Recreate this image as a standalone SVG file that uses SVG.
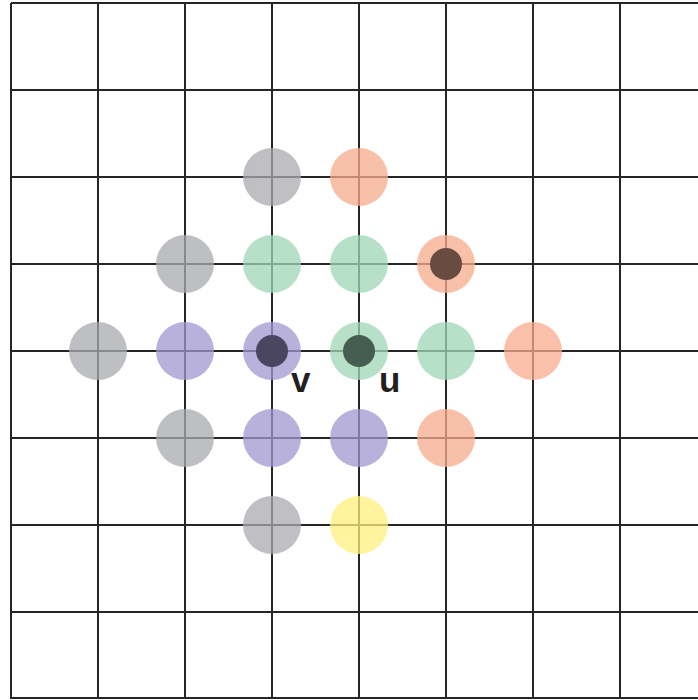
<svg xmlns="http://www.w3.org/2000/svg" width="698" height="700" viewBox="0 0 698 700">
<style>
.g{stroke:#262626;stroke-width:2;fill:none}
.c{opacity:0.75}
.gray{fill:#a9aab0}
.org{fill:#f8ab8d}
.grn{fill:#9fd6b6}
.pur{fill:#9f97cf}
.yel{fill:#fff07c}
.lbl{font-family:"Liberation Sans",Arial,sans-serif;font-weight:bold;font-size:35px;fill:#231f20}
</style>
<rect width="698" height="700" fill="#fff"/>
<g id="grid" class="g">
<path d="M11 3V699M98 3V699M185 3V699M272 3V699M359 3V699M446 3V699M533 3V699M620 3V699"/>
<path d="M11 3H698M11 90H698M11 177H698M11 264H698M11 351H698M11 438H698M11 525H698M11 612H698M11 698H698"/>
</g>
<g id="gray-nodes" class="c gray">
<circle cx="272" cy="177" r="29"/><circle cx="185" cy="264" r="29"/><circle cx="98" cy="351" r="29"/><circle cx="185" cy="438" r="29"/><circle cx="272" cy="525" r="29"/>
</g>
<g id="orange-nodes" class="c org">
<circle cx="359" cy="177" r="29"/><circle cx="446" cy="264" r="29"/><circle cx="533" cy="351" r="29"/><circle cx="446" cy="438" r="29"/>
</g>
<g id="green-nodes" class="c grn">
<circle cx="272" cy="264" r="29"/><circle cx="359" cy="264" r="29"/><circle cx="359" cy="351" r="29"/><circle cx="446" cy="351" r="29"/>
</g>
<g id="purple-nodes" class="c pur">
<circle cx="185" cy="351" r="29"/><circle cx="272" cy="351" r="29"/><circle cx="272" cy="438" r="29"/><circle cx="359" cy="438" r="29"/>
</g>
<g id="yellow-node" class="c yel"><circle cx="359" cy="525" r="29"/></g>
<g id="v"><circle cx="272" cy="351" r="16" fill="#4a4661"/><text class="lbl" x="291" y="392">v</text></g>
<g id="u"><circle cx="359" cy="351" r="16" fill="#465e51"/><text class="lbl" x="379" y="392">u</text></g>
<g id="w"><circle cx="446" cy="264" r="16" fill="#6a4b42"/></g>
</svg>
